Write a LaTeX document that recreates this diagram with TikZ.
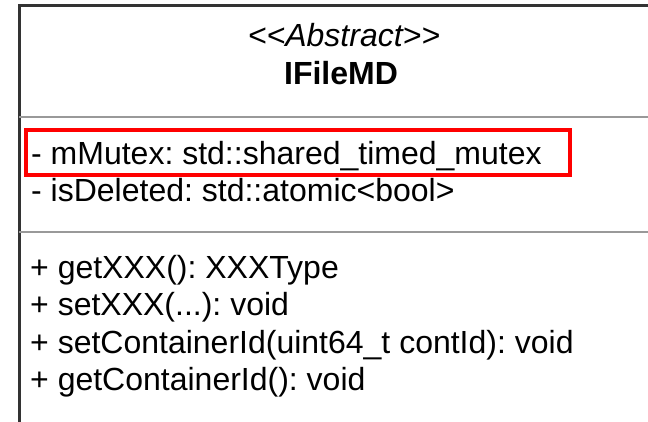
\documentclass[tikz,border=0pt]{standalone}
\usepackage{fontspec}
\setmainfont{Liberation Sans}
\usetikzlibrary{positioning}
\frenchspacing

\tikzset{
	member/.style={inner sep=0pt, anchor=base west},
	title/.style={inner sep=0pt, anchor=base}
}

\begin{document}
\begin{tikzpicture}[x=1pt, y=-1pt, font=\fontsize{32}{37}\selectfont]
				\useasboundingbox (0,0) rectangle (648,422);
				
				% compartments
				\draw[line width=3pt, black!80] (648,6) -- (19,6) -- (19,422);
				\draw[line width=2.5pt, black!40] (19,117) -- (648,117);
				\draw[line width=2.5pt, black!40] (19,232) -- (648,232);
				
				\node[title] (stereo) at (344,47) {\itshape <\kern0pt<Abstract>\kern0pt>};
				\node[title] (name) at (341,85) {\bfseries IFileMD};
				
				\node[member] (mutex) at (31,165) {- mMutex: std::shared\_timed\_mutex};
				\node[member] (deleted) at (31,202) {- isDeleted: std::atomic<bool>};
				
				\node[member] (getx) at (30,278) {+ getXXX(): XXXType};
				\node[member] (setx) at (30,315) {+ setXXX(...): void};
				\node[member] (setcont) at (30,353) {+ setContainerId(uint64\_t contId): void};
				\node[member] (getcont) at (30,390) {+ getContainerId(): void};
				
				% highlight
				\draw[line width=3.5pt, red] (26,130) rectangle (570,175);
			\end{tikzpicture}
\end{document}
